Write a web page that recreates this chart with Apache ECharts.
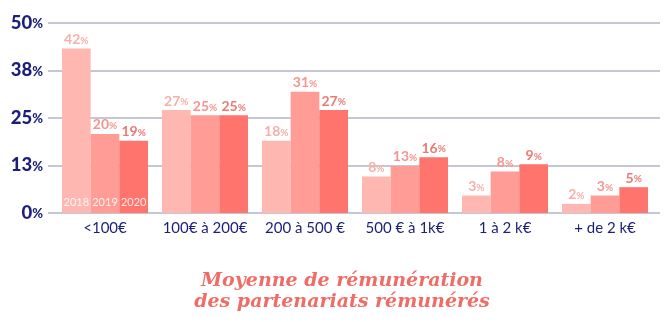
<!DOCTYPE html>
<html><head><meta charset="utf-8">
<script src="https://cdn.jsdelivr.net/npm/echarts@6/dist/echarts.min.js"></script>
<style>html,body{margin:0;padding:0;background:#fff}#c{width:664px;height:322px}</style>
</head><body><div id="c"></div>
<script>
var categories = ['<100€', '100€ à 200€', '200 à 500 €', '500 € à 1k€', '1 à 2 k€', '+ de 2 k€'];
var years = ['2018', '2019', '2020'];
// bar heights as drawn (in %)
var values2018 = [43.3, 27.1, 19.0, 9.6, 4.6, 2.4];
var values2019 = [20.8, 25.7, 31.9, 12.4, 10.9, 4.6];
var values2020 = [19.0, 25.7, 27.1, 14.7, 12.8, 6.8];
// value labels as printed
var labels2018 = ['42', '27', '18', '8', '3', '2'];
var labels2019 = ['20', '25', '31', '13', '8', '3'];
var labels2020 = ['19', '25', '27', '16', '9', '5'];
var yTicks = ['0%', '13%', '25%', '38%', '50%'];

var barColors = ['#ffb7b2', '#ff9c96', '#ff746d'];
var labelColors = ['#f6b0ab', '#f4958f', '#ec7a74'];
var navy = '#1c1f7a';
var font = 'Lato';

var chart = echarts.init(document.getElementById('c'), null, {renderer: 'canvas'});
var vals = [values2018, values2019, values2020];
var labs = [labels2018, labels2019, labels2020];

var series = [];
for (var i = 0; i < 3; i++) {
  (function (i) {
    series.push({
      type: 'bar', name: years[i], xAxisIndex: 0, yAxisIndex: 0,
      data: vals[i], barGap: '0%', barCategoryGap: '14%',
      itemStyle: {color: barColors[i]},
      label: {
        show: true, position: 'top', distance: 2,
        formatter: function (p) { return '{n|' + labs[i][p.dataIndex] + '}{p|%}'; },
        rich: {
          n: {fontFamily: font, fontWeight: 'bold', fontSize: 14, color: labelColors[i]},
          p: {fontFamily: font, fontWeight: 'bold', fontSize: 10, color: labelColors[i], padding: [2, 0, 0, 0]}
        }
      }
    });
  })(i);
}
for (var j = 0; j < 3; j++) {
  (function (j) {
    var d = vals[j].map(function (v, k) { return k === 0 ? v : '-'; });
    series.push({
      type: 'bar', xAxisIndex: 1, yAxisIndex: 0, data: d, barGap: '0%', barCategoryGap: '14%',
      itemStyle: {color: 'rgba(0,0,0,0)'}, silent: true,
      label: {show: true, position: 'insideBottom', distance: 5, formatter: years[j],
        color: 'rgba(255,255,255,0.85)', fontFamily: font, fontSize: 11}
    });
  })(j);
}

chart.setOption({
  animation: false,
  grid: [
    {left: 55, right: 9, top: 23, bottom: 109},
    {left: 48, right: 4, top: 23, bottom: 109}
  ],
  xAxis: [
    {type: 'category', gridIndex: 0, data: categories,
      axisLine: {show: false}, axisTick: {show: false},
      axisLabel: {interval: 0, color: navy, fontFamily: font, fontSize: 15, margin: 8}},
    {type: 'category', gridIndex: 0, data: categories, show: false},
    {type: 'category', gridIndex: 1, data: [''], show: false}
  ],
  yAxis: [
    {type: 'value', gridIndex: 0, min: 0, max: 50, show: false},
    {type: 'value', gridIndex: 1, min: 0, max: 50, interval: 12.5,
      axisLine: {show: false}, axisTick: {show: false},
      splitLine: {lineStyle: {color: '#b2b4c6', width: 1.5}},
      axisLabel: {margin: 5,
        formatter: function (v) { var t = yTicks[Math.round(v / 12.5)]; return '{n|' + t.slice(0, -1) + '}{p|%}'; },
        rich: {
          n: {fontFamily: font, fontWeight: 900, fontSize: 18.5, color: navy},
          p: {fontFamily: font, fontWeight: 900, fontSize: 13, color: navy, padding: [2, 0, 0, 0]}
        }}}
  ],
  series: series,
  graphic: [{
    type: 'text', x: 342, y: 271,
    style: {text: 'Moyenne de rémunération\ndes partenariats rémunérés', textAlign: 'center',
      fill: '#ef6d67', fontFamily: 'DejaVu Serif', fontStyle: 'italic', fontWeight: 'bold',
      fontSize: 19, lineHeight: 21}
  }]
});
</script></body></html>
